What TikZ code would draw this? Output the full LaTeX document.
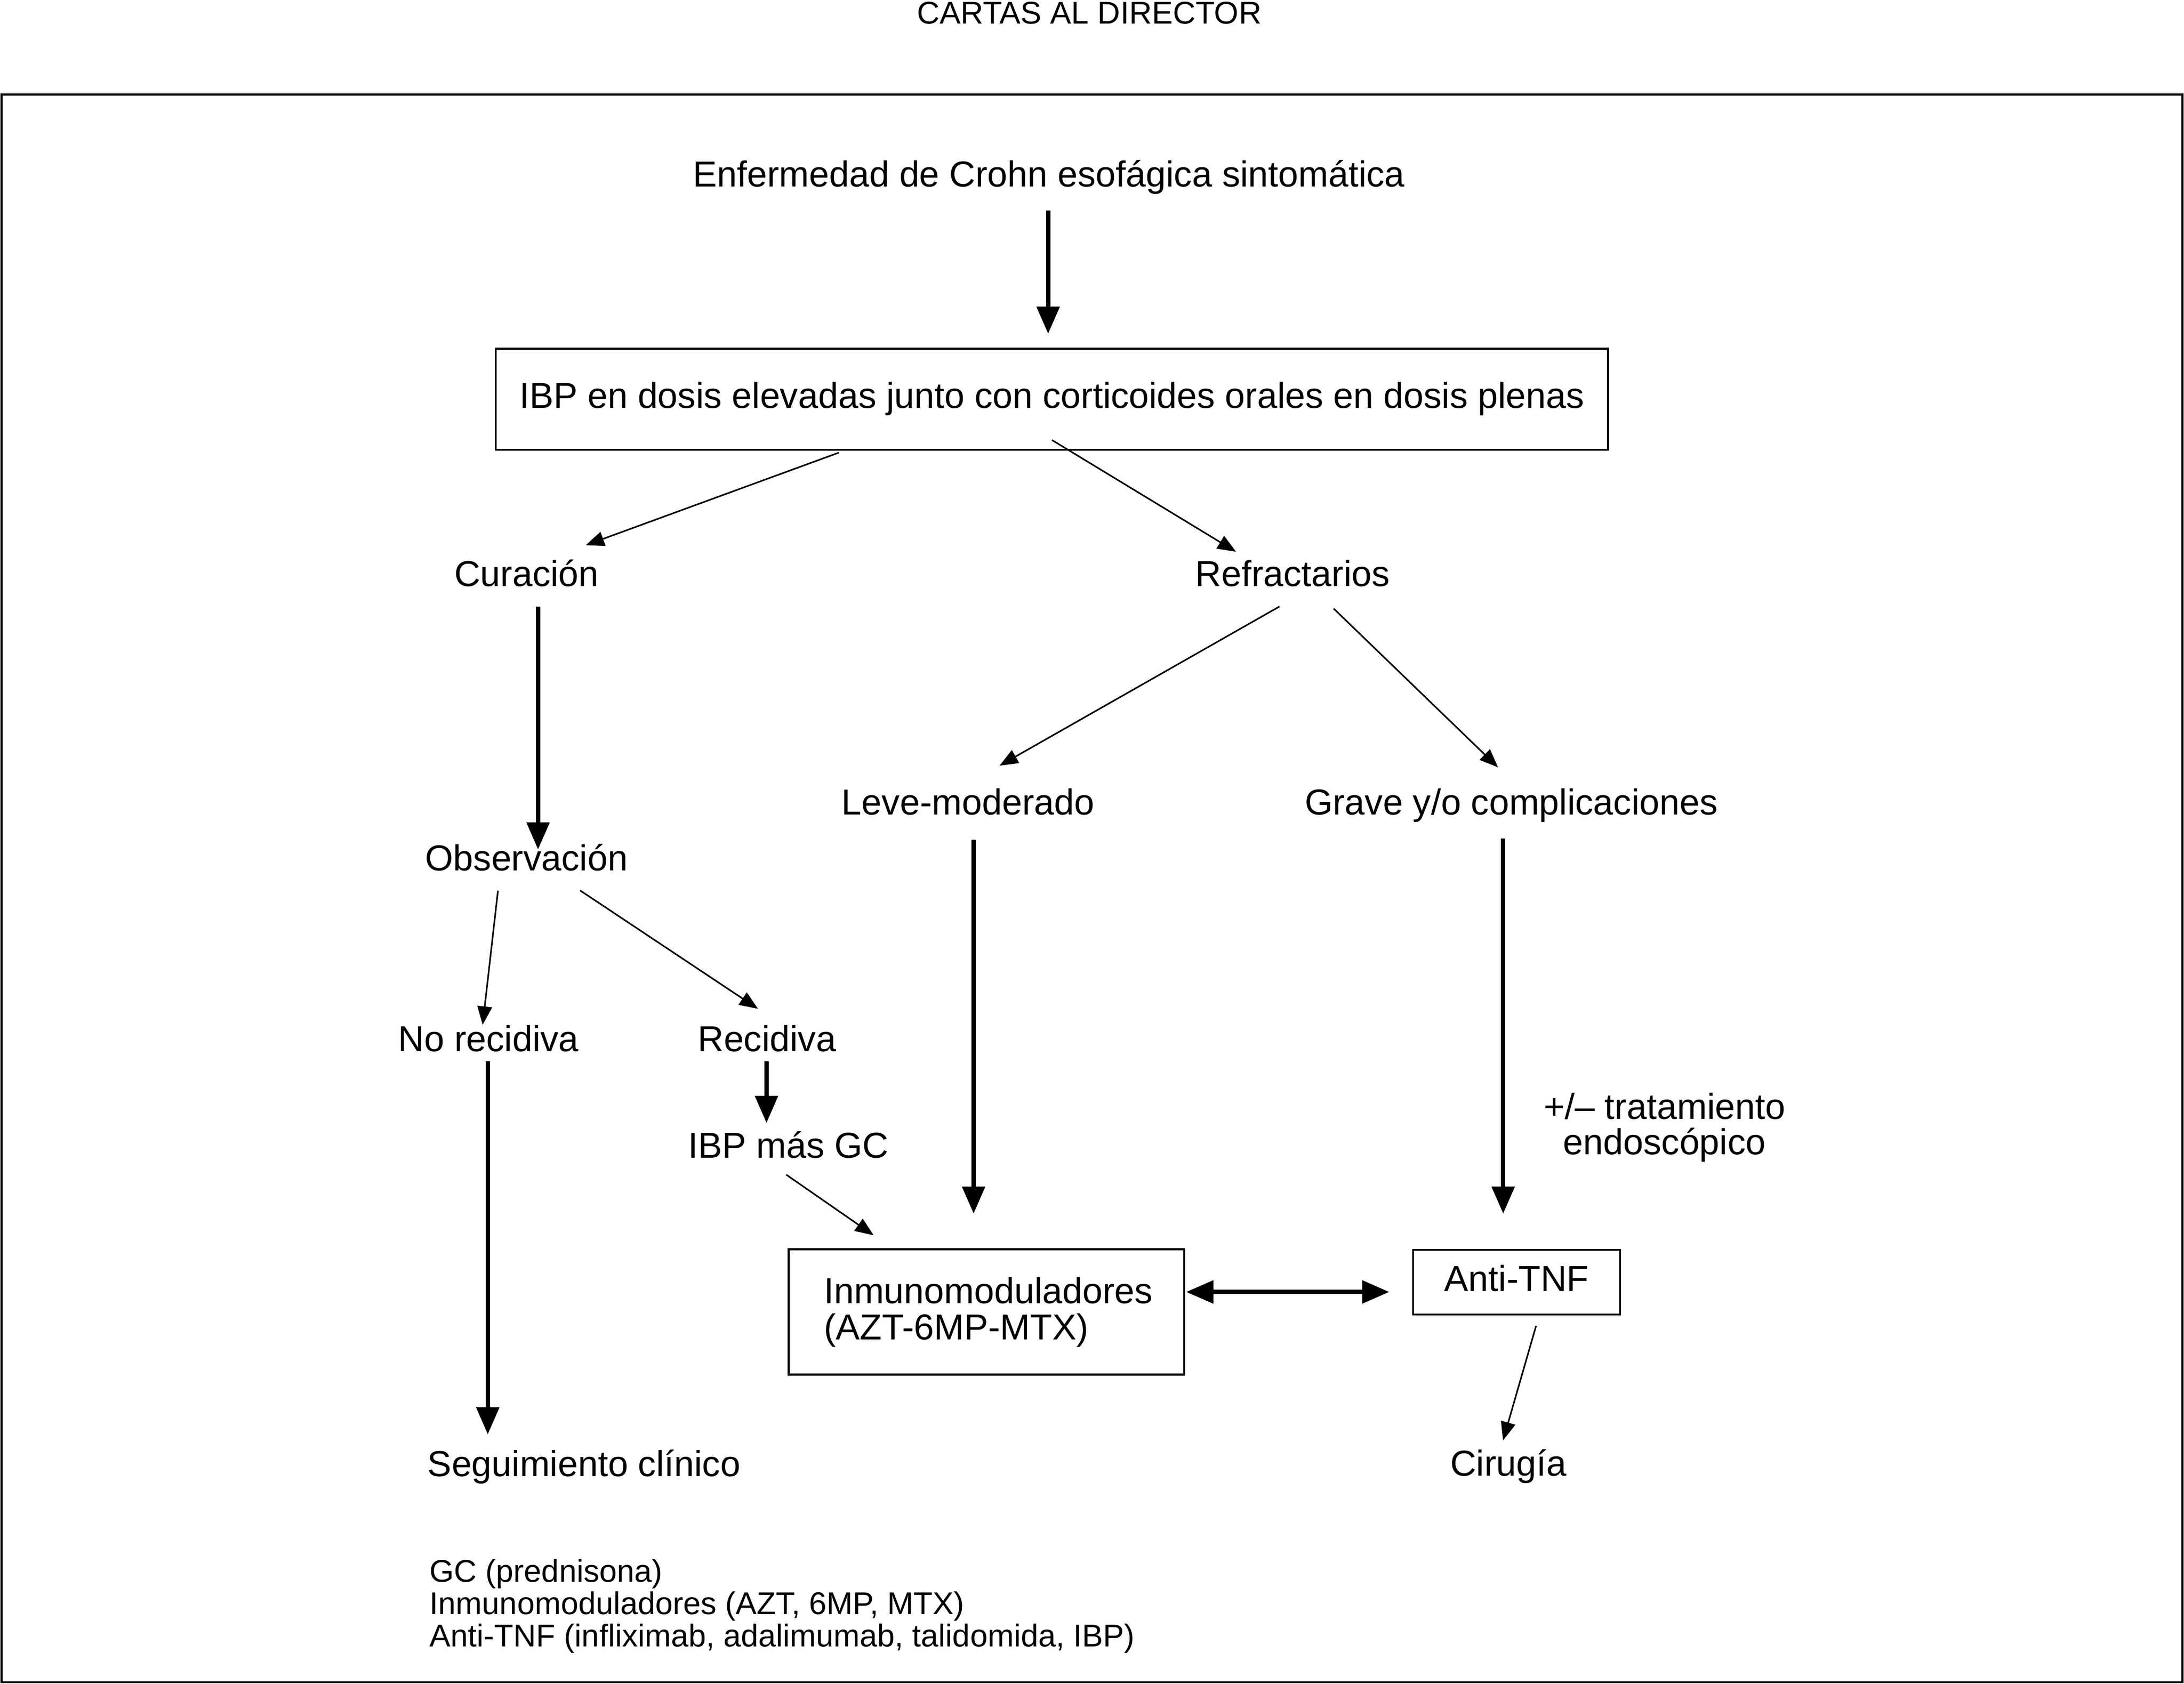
\documentclass[tikz,border=0pt]{standalone}
\usepackage{fontspec}
\setmainfont{Liberation Sans}
\usetikzlibrary{arrows.meta}
\newcommand\stackLtwo[3]{\vtop{\baselineskip=#1\lineskiplimit=-100pt\hbox{#2}\hbox{#3}}}
\newcommand\stackLthree[4]{\vtop{\baselineskip=#1\lineskiplimit=-100pt\hbox{#2}\hbox{#3}\hbox{#4}}}
\newcommand\stackCtwo[3]{\vtop{\baselineskip=#1\lineskiplimit=-100pt\halign{\hfil##\hfil\cr#2\cr#3\cr}}}
\begin{document}
\begin{tikzpicture}[x=0.4pt,y=-0.4pt,
  txt/.style={inner sep=0pt, anchor=base, font=\fontsize{10.36}{10.4}\selectfont},
  smalltxt/.style={inner sep=0pt, font=\fontsize{9.04}{8.96}\selectfont},
  boxed/.style={draw, line width=0.55pt, inner sep=0pt, text height=7.5pt, text depth=2.46pt, font=\fontsize{10.36}{10.4}\selectfont},
  thinarrow/.style={line width=0.45pt, -{Triangle[length=5.3pt,width=4.2pt]}},
  thickarrow/.style={line width=1.25pt, -{Triangle[length=7.8pt,width=6.4pt]}},
  dblarrow/.style={line width=1.25pt, {Triangle[length=7.8pt,width=6.4pt]}-{Triangle[length=7.8pt,width=6.4pt]}},
]
\useasboundingbox (0,0) rectangle (1568,1209);

% header and frame
\node[smalltxt, anchor=base] (header) at (782,17) {CARTAS AL DIRECTOR};
\draw[line width=0.6pt] (1,68) rectangle (1567,1208);

% text nodes
\node[txt] (enf) at (753,134) {Enfermedad de Crohn esofágica sintomática};
\node[boxed, minimum width=319.4pt, minimum height=29pt] (ibp) at (755.2,286.7)
  {IBP en dosis elevadas junto con corticoides orales en dosis plenas};
\node[txt] (cur) at (378,421) {Curación};
\node[txt] (ref) at (928,421) {Refractarios};
\node[txt] (leve) at (695,585) {Leve-moderado};
\node[txt] (grave) at (1085,585) {Grave y/o complicaciones};
\node[txt] (obs) at (378,625) {Observación};
\node[txt] (norec) at (350.7,755) {No recidiva};
\node[txt] (rec) at (550.6,755) {Recidiva};
\node[txt] (ibpgc) at (566,831.4) {IBP más GC};
\node[txt] (endo) at (1195,803.6) {\stackCtwo{10.16pt}{+/– tratamiento}{endoscópico}};
\node[draw, line width=0.55pt, inner sep=0pt, minimum width=113.6pt, minimum height=36pt] (imm) at (708.2,942) {};
\node[txt, anchor=base west] (immtxt) at (591,936) {\stackLtwo{10.4pt}{Inmunomoduladores}{(AZT-6MP-MTX)}};
\node[boxed, minimum width=59.5pt, minimum height=18.56pt] (tnf) at (1088.8,920.7) {Anti-TNF};
\node[txt] (seg) at (419.3,1060) {Seguimiento clínico};
\node[txt] (cir) at (1083,1059.7) {Cirugía};
\node[smalltxt, anchor=base west] (legend) at (308,1136)
  {\stackLthree{9.3pt}{GC (prednisona)}{Inmunomoduladores (AZT, 6MP, MTX)}{Anti-TNF (infliximab, adalimumab, talidomida, IBP)}};

% connector end points
\coordinate (t1s) at (752.5,151.1);  \coordinate (t1e) at (752.5,239.7);
\coordinate (a1s) at (602.3,325);    \coordinate (a1e) at (420.5,391.5);
\coordinate (a2s) at (755.3,316);    \coordinate (a2e) at (887.4,396.2);
\coordinate (t2s) at (386.3,435.5);  \coordinate (t2e) at (386.3,610);
\coordinate (a3s) at (918.6,435.5);  \coordinate (a3e) at (717.6,549.8);
\coordinate (a4s) at (957.5,437);    \coordinate (a4e) at (1075.5,551);
\coordinate (a5s) at (357.5,639.6);  \coordinate (a5e) at (346.5,735.9);
\coordinate (a6s) at (416.5,639.4);  \coordinate (a6e) at (544.2,724.4);
\coordinate (t3s) at (350.2,762);    \coordinate (t3e) at (350.2,1030);
\coordinate (t4s) at (550.3,762);    \coordinate (t4e) at (550.3,806.4);
\coordinate (a7s) at (564.5,843.5);  \coordinate (a7e) at (627.2,887);
\coordinate (t5s) at (699,603);      \coordinate (t5e) at (699,871.5);
\coordinate (t6s) at (1079.2,602);   \coordinate (t6e) at (1079.2,871.5);
\coordinate (ds) at (851.6,927.7);   \coordinate (de) at (997.5,927.7);
\coordinate (a8s) at (1102.8,952.1); \coordinate (a8e) at (1079.1,1034.3);

% connectors
\draw[thickarrow] (t1s) -- (t1e);
\draw[thinarrow] (a1s) -- (a1e);
\draw[thinarrow] (a2s) -- (a2e);
\draw[thickarrow] (t2s) -- (t2e);
\draw[thinarrow] (a3s) -- (a3e);
\draw[thinarrow] (a4s) -- (a4e);
\draw[thinarrow] (a5s) -- (a5e);
\draw[thinarrow] (a6s) -- (a6e);
\draw[thickarrow] (t3s) -- (t3e);
\draw[thickarrow] (t4s) -- (t4e);
\draw[thinarrow] (a7s) -- (a7e);
\draw[thickarrow] (t5s) -- (t5e);
\draw[thickarrow] (t6s) -- (t6e);
\draw[dblarrow] (ds) -- (de);
\draw[thinarrow] (a8s) -- (a8e);
\end{tikzpicture}
\end{document}
